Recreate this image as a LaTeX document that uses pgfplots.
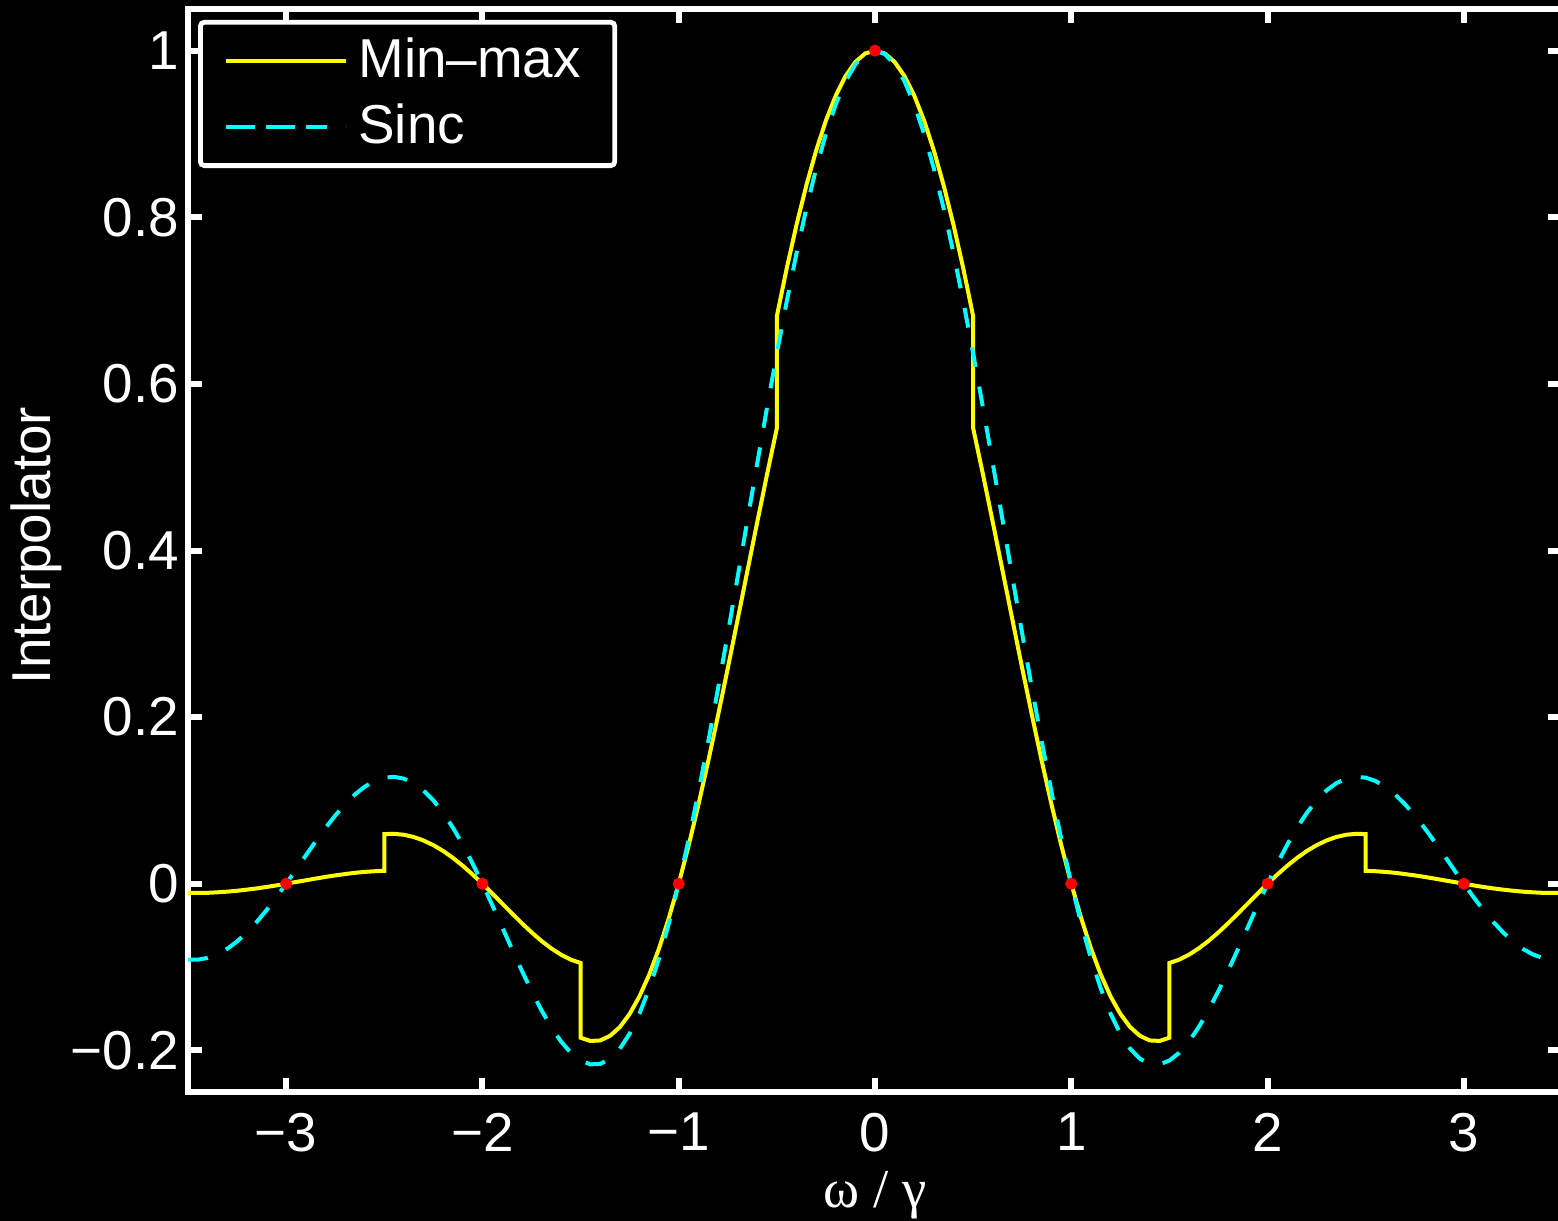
\documentclass[border=0pt]{standalone}
\usepackage{pgfplots}
\pgfplotsset{compat=1.18}
\usepackage{pgfplotstable}
\usetikzlibrary{backgrounds}
\usepackage{fontspec}
\setmainfont{Liberation Sans}
\newfontfamily\timesfont{Liberation Serif}
\newcommand\fs{\fontsize{13.7pt}{16pt}\selectfont}
\definecolor{myellow}{rgb}{1,1,0}
\definecolor{mcyan}{rgb}{0,1,1}
\definecolor{mred}{rgb}{1,0,0}

% min-max interpolator (jumps at +-0.5, +-1.5, +-2.5)
\pgfplotstableread{
x y
-3.50 -0.0111
-3.45 -0.0111
-3.40 -0.0109
-3.35 -0.0103
-3.30 -0.0095
-3.25 -0.0084
-3.20 -0.0071
-3.15 -0.0056
-3.10 -0.0039
-3.05 -0.0020
-3.00 0
-2.95 0.0021
-2.90 0.0041
-2.85 0.0062
-2.80 0.0082
-2.75 0.0100
-2.70 0.0116
-2.65 0.0131
-2.60 0.0142
-2.55 0.0150
-2.50 0.0155
-2.50 0.0596
-2.45 0.0599
-2.40 0.0588
-2.35 0.0561
-2.30 0.0519
-2.25 0.0463
-2.20 0.0393
-2.15 0.0310
-2.10 0.0215
-2.05 0.0111
-2.00 0
-1.95 -0.0117
-1.90 -0.0236
-1.85 -0.0355
-1.80 -0.0472
-1.75 -0.0583
-1.70 -0.0685
-1.65 -0.0775
-1.60 -0.0851
-1.55 -0.0911
-1.50 -0.0951
-1.50 -0.1848
-1.45 -0.1887
-1.40 -0.1881
-1.35 -0.1826
-1.30 -0.1721
-1.25 -0.1563
-1.20 -0.1352
-1.15 -0.1089
-1.10 -0.0775
-1.05 -0.0410
-1.00 0
-0.95 0.0453
-0.90 0.0944
-0.85 0.1468
-0.80 0.2017
-0.75 0.2587
-0.70 0.3169
-0.65 0.3756
-0.60 0.4340
-0.55 0.4914
-0.50 0.5469
-0.50 0.6812
-0.45 0.7383
-0.40 0.7907
-0.35 0.8381
-0.30 0.8800
-0.25 0.9161
-0.20 0.9460
-0.15 0.9695
-0.10 0.9864
-0.05 0.9966
0.00 1
0.05 0.9966
0.10 0.9864
0.15 0.9695
0.20 0.9460
0.25 0.9161
0.30 0.8800
0.35 0.8381
0.40 0.7907
0.45 0.7383
0.50 0.6812
0.50 0.5469
0.55 0.4914
0.60 0.4340
0.65 0.3756
0.70 0.3169
0.75 0.2587
0.80 0.2017
0.85 0.1468
0.90 0.0944
0.95 0.0453
1.00 0
1.05 -0.0410
1.10 -0.0775
1.15 -0.1089
1.20 -0.1352
1.25 -0.1563
1.30 -0.1721
1.35 -0.1826
1.40 -0.1881
1.45 -0.1887
1.50 -0.1848
1.50 -0.0951
1.55 -0.0911
1.60 -0.0851
1.65 -0.0775
1.70 -0.0685
1.75 -0.0583
1.80 -0.0472
1.85 -0.0355
1.90 -0.0236
1.95 -0.0117
2.00 0
2.05 0.0111
2.10 0.0215
2.15 0.0310
2.20 0.0393
2.25 0.0463
2.30 0.0519
2.35 0.0561
2.40 0.0588
2.45 0.0599
2.50 0.0596
2.50 0.0155
2.55 0.0150
2.60 0.0142
2.65 0.0131
2.70 0.0116
2.75 0.0100
2.80 0.0082
2.85 0.0062
2.90 0.0041
2.95 0.0021
3.00 0
3.05 -0.0020
3.10 -0.0039
3.15 -0.0056
3.20 -0.0071
3.25 -0.0084
3.30 -0.0095
3.35 -0.0103
3.40 -0.0109
3.45 -0.0111
3.50 -0.0111
}\minmax

% sinc
\pgfplotstableread{
x y
-3.50 -0.09095
-3.45 -0.09113
-3.40 -0.08904
-3.35 -0.08466
-3.30 -0.07804
-3.25 -0.06926
-3.20 -0.05847
-3.15 -0.04588
-3.10 -0.03173
-3.05 -0.01633
-3.00 0
-2.95 0.01688
-2.90 0.03392
-2.85 0.05071
-2.80 0.06682
-2.75 0.08185
-2.70 0.09538
-2.65 0.10703
-2.60 0.11644
-2.55 0.12329
-2.50 0.12732
-2.45 0.12832
-2.40 0.12614
-2.35 0.12069
-2.30 0.11196
-2.25 0.10004
-2.20 0.08505
-2.15 0.06721
-2.10 0.04684
-2.05 0.02429
-2.00 0
-1.95 -0.02554
-1.90 -0.05177
-1.85 -0.07811
-1.80 -0.10394
-1.75 -0.12862
-1.70 -0.15148
-1.65 -0.17189
-1.60 -0.18921
-1.55 -0.20283
-1.50 -0.21221
-1.45 -0.21682
-1.40 -0.21624
-1.35 -0.21009
-1.30 -0.19809
-1.25 -0.18006
-1.20 -0.15592
-1.15 -0.12566
-1.10 -0.08942
-1.05 -0.04742
-1.00 0
-0.95 0.05242
-0.90 0.10929
-0.85 0.17001
-0.80 0.23387
-0.75 0.30011
-0.70 0.36789
-0.65 0.43633
-0.60 0.50455
-0.55 0.57162
-0.50 0.63662
-0.45 0.69865
-0.40 0.75683
-0.35 0.81033
-0.30 0.85839
-0.25 0.90032
-0.20 0.93549
-0.15 0.96340
-0.10 0.98363
-0.05 0.99589
0.00 1
0.05 0.99589
0.10 0.98363
0.15 0.96340
0.20 0.93549
0.25 0.90032
0.30 0.85839
0.35 0.81033
0.40 0.75683
0.45 0.69865
0.50 0.63662
0.55 0.57162
0.60 0.50455
0.65 0.43633
0.70 0.36789
0.75 0.30011
0.80 0.23387
0.85 0.17001
0.90 0.10929
0.95 0.05242
1.00 0
1.05 -0.04742
1.10 -0.08942
1.15 -0.12566
1.20 -0.15592
1.25 -0.18006
1.30 -0.19809
1.35 -0.21009
1.40 -0.21624
1.45 -0.21682
1.50 -0.21221
1.55 -0.20283
1.60 -0.18921
1.65 -0.17189
1.70 -0.15148
1.75 -0.12862
1.80 -0.10394
1.85 -0.07811
1.90 -0.05177
1.95 -0.02554
2.00 0
2.05 0.02429
2.10 0.04684
2.15 0.06721
2.20 0.08505
2.25 0.10004
2.30 0.11196
2.35 0.12069
2.40 0.12614
2.45 0.12832
2.50 0.12732
2.55 0.12329
2.60 0.11644
2.65 0.10703
2.70 0.09538
2.75 0.08185
2.80 0.06682
2.85 0.05071
2.90 0.03392
2.95 0.01688
3.00 0
3.05 -0.01633
3.10 -0.03173
3.15 -0.04588
3.20 -0.05847
3.25 -0.06926
3.30 -0.07804
3.35 -0.08466
3.40 -0.08904
3.45 -0.09113
3.50 -0.09095
}\sinc

\begin{document}
\begin{tikzpicture}
\begin{axis}[
  scale only axis, width=343.5pt, height=270.75pt,
  xmin=-3.5, xmax=3.5, ymin=-0.25, ymax=1.05,
  axis line style={white, line width=1.5pt},
  every tick/.style={white, line width=1.5pt},
  major tick length=3.4pt,
  tick align=inside,
  xtick={-3,-2,-1,0,1,2,3},
  xticklabels={−3,−2,−1,0,1,2,3},
  ytick={-0.2,0,0.2,0.4,0.6,0.8,1},
  yticklabels={−0.2,0,0.2,0.4,0.6,0.8,1},
  ticklabel style={white, font=\fs},
  xticklabel style={yshift=-1.75pt},
  yticklabel style={xshift=1.3pt},
  xlabel={\timesfont ω / γ},
  ylabel={Interpolator},
  label style={white, font=\fs},
  xlabel style={at={(axis description cs:0.5,-0.1062)}, anchor=base},
  ylabel style={at={(axis description cs:-0.0813,0.5046)}, anchor=south},
  legend style={at={(axis description cs:0.0073,0.990)}, anchor=north west,
    fill=black, draw=white, line width=1.2pt, rounded corners=1pt,
    text=white, font=\fs, inner xsep=6pt, inner ysep=1.5pt,
    nodes={inner sep=2.5pt}},
  legend cell align=left,
  legend image code/.code={\draw[#1] (2.25pt,0pt) -- (25.25pt,0pt);
    \path (0pt,0pt) -- (30pt,0pt);},
]
\addplot[myellow, line width=1pt] table {\minmax};
\addlegendentry{Min–max}
\addplot[mcyan, line width=1pt, dash pattern=on 5pt off 5pt] table {\sinc};
\addlegendentry{Sinc}
\addplot[only marks, mark=*, mark size=1.3pt, mred, forget plot] coordinates {
  (-3,0) (-2,0) (-1,0) (0,1) (1,0) (2,0) (3,0) };
\coordinate (bl) at (rel axis cs:0,0);
\coordinate (tr) at (rel axis cs:1,1);
\end{axis}
\pgfresetboundingbox
\path[use as bounding box] ([xshift=-47pt,yshift=-32pt]bl) rectangle ([xshift=-1pt,yshift=2.25pt]tr);
\begin{scope}[on background layer]
\fill[black] ([xshift=-48pt,yshift=-33pt]bl) rectangle ([xshift=2pt,yshift=3pt]tr);
\end{scope}
\end{tikzpicture}
\end{document}
